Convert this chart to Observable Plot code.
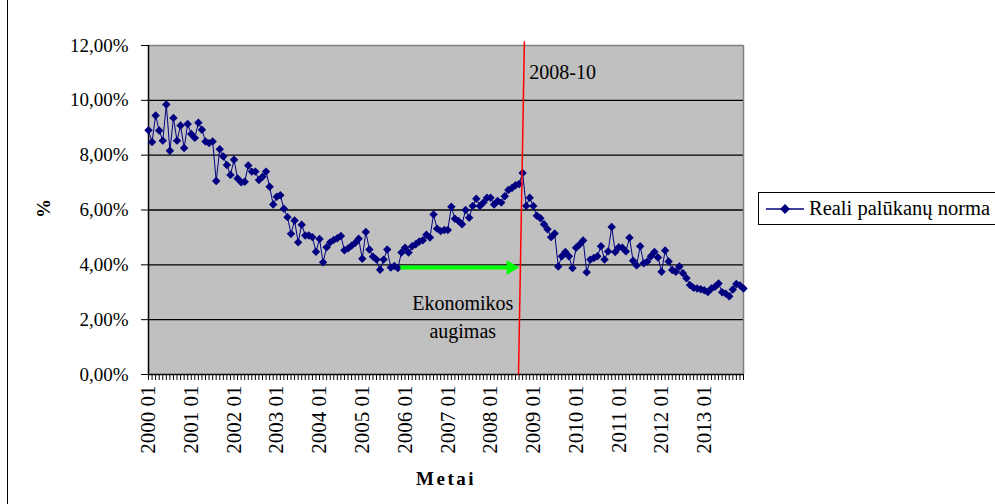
<!DOCTYPE html>
<html>
<head>
<meta charset="utf-8">
<script src="https://cdn.jsdelivr.net/npm/d3@7"></script>
<script src="https://cdn.jsdelivr.net/npm/@observablehq/plot@0.6"></script>
<style>
  body { margin: 0; background: #fff; }
  #wrap { position: relative; width: 995px; height: 504px; overflow: hidden;
          font-family: "Liberation Serif", "Times New Roman", serif; }
  #wrap > svg { position: absolute; left: 0; top: 0; }
  #wrap svg text { font-family: "Liberation Serif", "Times New Roman", serif; }
  #edge { position: absolute; left: 7px; top: 0; bottom: 0; border-left: 1.5px solid #000; }
  #legend { position: absolute; left: 758px; top: 192px; width: 240px; height: 33px;
            border: 1px solid #000; background: #fff; box-sizing: border-box;
            display: flex; align-items: center; font-size: 20.5px; color: #000; white-space: nowrap; }
  #legend svg { flex: none; }
</style>
</head>
<body>
<div id="wrap"><div id="edge"></div></div>
<script>
// Monthly real interest rate, %, January 2000 – December 2013
const rate = [
  8.91, 8.48, 9.45, 8.90, 8.53, 9.85, 8.16, 9.36, 8.53, 9.08, 8.26, 9.14,
  8.77, 8.63, 9.18, 8.93, 8.50, 8.44, 8.50, 7.06, 8.22, 7.95, 7.64, 7.28,
  7.83, 7.15, 7.01, 7.03, 7.62, 7.40, 7.40, 7.09, 7.21, 7.40, 6.85, 6.20,
  6.48, 6.54, 6.05, 5.74, 5.13, 5.62, 4.82, 5.46, 5.07, 5.07, 5.01, 4.48,
  4.94, 4.09, 4.64, 4.82, 4.91, 4.97, 5.05, 4.53, 4.60, 4.70, 4.80, 4.95,
  4.22, 5.20, 4.56, 4.30, 4.19, 3.82, 4.19, 4.56, 3.90, 3.96, 3.88, 4.45,
  4.62, 4.45, 4.68, 4.75, 4.85, 4.90, 5.10, 5.00, 5.84, 5.32, 5.23, 5.27,
  5.27, 6.12, 5.68, 5.60, 5.48, 6.00, 5.72, 6.15, 6.41, 6.15, 6.27, 6.45,
  6.45, 6.20, 6.33, 6.27, 6.50, 6.73, 6.80, 6.90, 6.95, 7.35, 6.15, 6.45,
  6.15, 5.79, 5.70, 5.48, 5.30, 5.01, 5.14, 3.94, 4.31, 4.47, 4.31, 3.88,
  4.62, 4.74, 4.89, 3.73, 4.19, 4.25, 4.31, 4.68, 4.19, 4.49, 5.38, 4.47,
  4.64, 4.62, 4.49, 4.99, 4.15, 3.98, 4.68, 4.06, 4.12, 4.31, 4.47, 4.27,
  3.75, 4.52, 4.12, 3.81, 3.75, 3.94, 3.69, 3.51, 3.26, 3.16, 3.14, 3.11,
  3.07, 3.01, 3.14, 3.20, 3.32, 3.00, 2.95, 2.85, 3.10, 3.30, 3.25, 3.14
];

// Category tick labels (one per January)
const yearLabels = [
  "2000 01", "2001 01", "2002 01", "2003 01", "2004 01", "2005 01", "2006 01",
  "2007 01", "2008 01", "2009 01", "2010 01", "2011 01", "2012 01", "2013 01"
];

const yTicks = [0, 2, 4, 6, 8, 10, 12];
const yTickLabels = ["0,00%", "2,00%", "4,00%", "6,00%", "8,00%", "10,00%", "12,00%"];

const seriesName = "Reali palūkanų norma";
const xTitle = "Metai";
const yTitle = "%";

// Annotations, in month-index / percent units
const crisisLabel = [{text: "2008-10", x: 106.9, y: 11.02}];
const crisisLine = [{x1: 105.5, y1: 12.15, x2: 103.85, y2: 0}];
const growthArrow = [{x1: 70.7, x2: 101.7, y: 3.9}];
const growthLabel = [{text: "Ekonomikos\naugimas", x: 88.2, y: 2.17}];

const rows = rate.map((v, i) => ({i, v}));
const monthTicks = d3.range(rate.length);
const yearTicks = yearLabels.map((_, k) => k * 12);

const FONT = "'Liberation Serif', 'Times New Roman', serif";
const NAVY = "#000080";

const chart = Plot.plot({
  width: 995,
  height: 504,
  marginLeft: 148,
  marginRight: 252,
  marginTop: 45,
  marginBottom: 130,
  x: {domain: [0, rate.length - 1]},
  y: {domain: [0, 12]},
  style: {fontFamily: FONT, background: "transparent", overflow: "visible", color: "#000"},
  marks: [
    Plot.frame({fill: "#c0c0c0", stroke: null}),
    Plot.ruleY(yTicks.filter(d => d > 0 && d < 12), {stroke: "#000", strokeWidth: 1.4}),
    Plot.ruleY([12], {stroke: "#808080", strokeWidth: 1.5}),
    Plot.ruleX([rate.length - 1], {stroke: "#808080", strokeWidth: 1.5}),
    Plot.ruleX([0], {stroke: "#000", strokeWidth: 1.5}),
    Plot.ruleY([0], {stroke: "#000", strokeWidth: 1.5}),
    Plot.axisY({
      ticks: yTicks, tickSize: 7, tickPadding: 13, fontSize: 19, label: null,
      tickFormat: d => yTickLabels[yTicks.indexOf(d)]
    }),
    Plot.axisX({ticks: monthTicks, tickSize: 6, tickFormat: () => "", label: null}),
    Plot.axisX({
      ticks: yearTicks, tickSize: 0, tickPadding: 11, tickRotate: -90, fontSize: 21, label: null,
      tickFormat: d => yearLabels[d / 12]
    }),
    Plot.line(rows, {x: "i", y: "v", stroke: NAVY, strokeWidth: 1}),
    Plot.dot(rows, {x: "i", y: "v", symbol: "diamond2", r: 3.8, fill: NAVY, stroke: null}),
    Plot.link(growthArrow, {x1: "x1", x2: "x2", y1: "y", y2: "y", stroke: "#00ff00", strokeWidth: 4}),
    Plot.dot(growthArrow, {x: "x2", y: "y", symbol: "triangle", rotate: 90, r: 5.4, fill: "#00ff00", stroke: null}),
    Plot.link(crisisLine, {x1: "x1", y1: "y1", x2: "x2", y2: "y2", stroke: "#ff0000", strokeWidth: 1.5}),
    Plot.text(crisisLabel, {x: "x", y: "y", text: "text", textAnchor: "start", fontSize: 20, fill: "#000"}),
    Plot.text(growthLabel, {x: "x", y: "y", text: "text", fontSize: 20, lineHeight: 1.4, fill: "#000"}),
    Plot.text([yTitle], {frameAnchor: "left", dx: -105, dy: 8, rotate: -90, fontSize: 19, fontWeight: "bold", fill: "#000"}),
    Plot.text([xTitle], {frameAnchor: "bottom", dy: 110, fontSize: 19, fontWeight: "bold", fill: "#000",
                         className: "x-title"})
  ]
});

// Spaced-out lettering for the x-axis title
d3.select(chart).selectAll("text")
  .filter(function () { return this.textContent === xTitle; })
  .attr("letter-spacing", "2.5px");

const wrap = document.getElementById("wrap");
wrap.insertBefore(chart, wrap.firstChild);

// Series legend
const legend = document.createElement("div");
legend.id = "legend";
legend.innerHTML =
  `<svg width="50" height="20"><line x1="7" x2="45" y1="10" y2="10" stroke="${NAVY}" stroke-width="1.5"/>` +
  `<path d="M26,5L31,10L26,15L21,10Z" fill="${NAVY}"/></svg>`;
const label = document.createElement("span");
label.textContent = seriesName;
legend.appendChild(label);
wrap.appendChild(legend);
</script>
</body>
</html>
